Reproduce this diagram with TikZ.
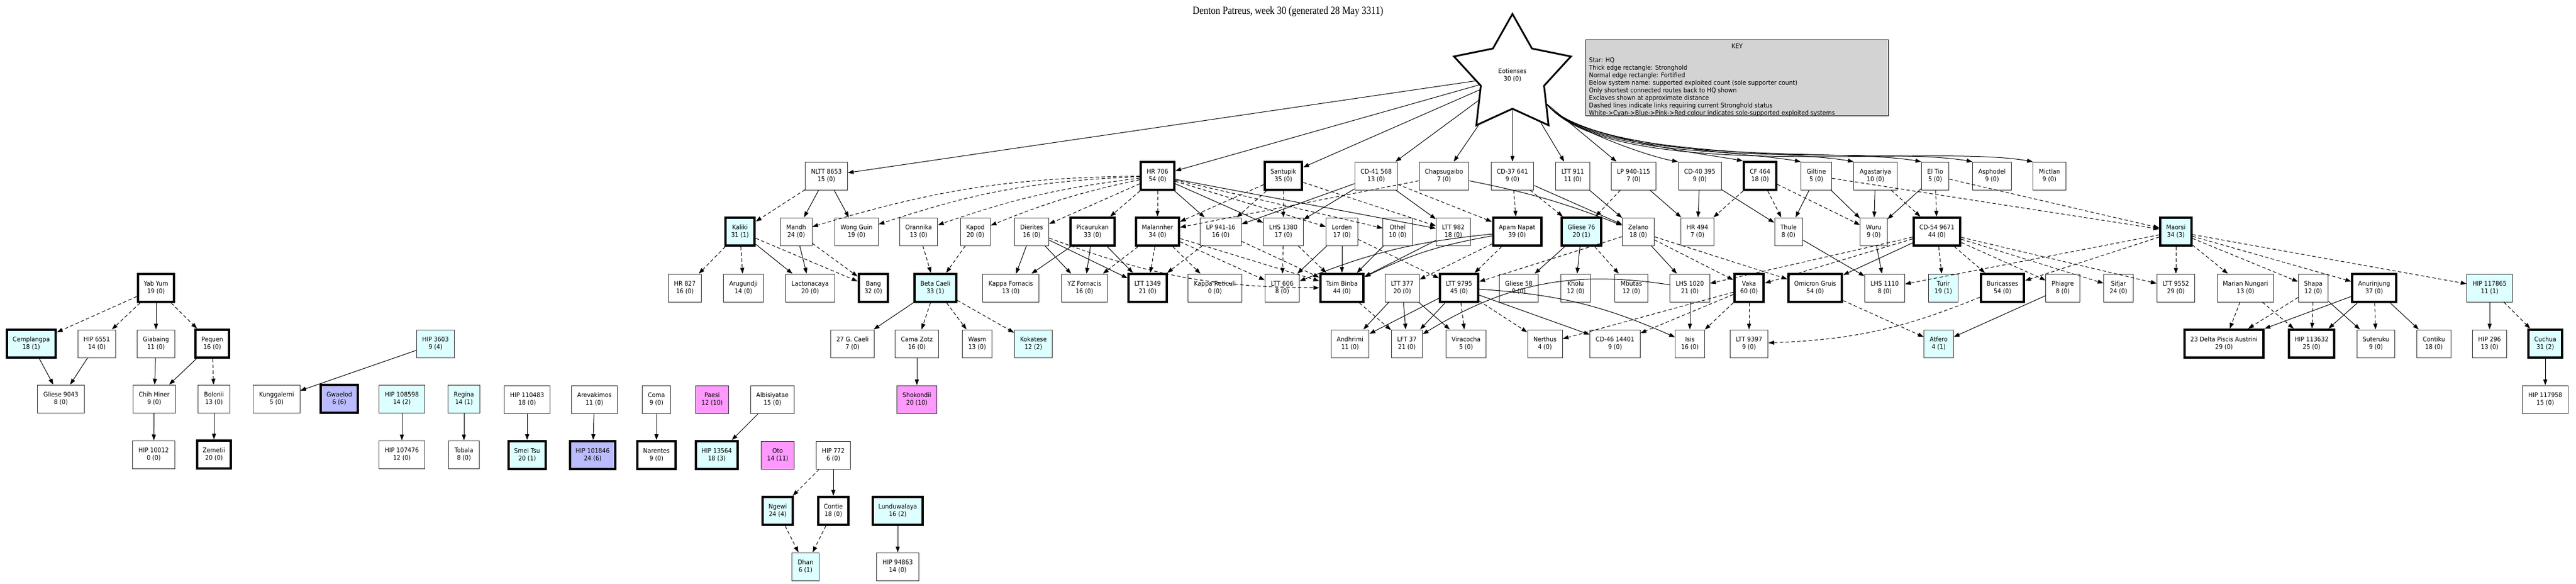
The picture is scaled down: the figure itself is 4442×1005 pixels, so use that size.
\documentclass[tikz,border=0pt]{standalone}
\usepackage{fontspec}
\setmainfont{DejaVu Sans}[FakeStretch=0.92]
\newfontfamily\titlefont{Liberation Serif}[FakeStretch=0.85]
\usepackage{xcolor}
\usetikzlibrary{arrows.meta, shapes.geometric, positioning}

\definecolor{edgegray}{HTML}{333333}
\definecolor{solecyan}{HTML}{DDFFFF}
\definecolor{soleblue}{HTML}{BBBBFF}
\definecolor{solepink}{HTML}{FF99FF}
\definecolor{keygray}{HTML}{D3D3D3}

\begin{document}
\begin{tikzpicture}[
  x=1pt, y=-1pt,
  font=\fontsize{11}{13}\selectfont,
  sys/.style={rectangle, draw=edgegray, line width=1pt, fill=white,
              minimum height=48pt, inner xsep=10pt, align=center},
  strong/.style={line width=4pt, draw=black},
  cyan/.style={fill=solecyan},
  blue/.style={fill=soleblue},
  pink/.style={fill=solepink},
  hq/.style={star, star points=5, star point ratio=1.85, draw=black,
             line width=3pt, fill=white, minimum size=212pt, inner sep=0pt,
             align=center},
  link/.style={-{Triangle[length=10pt,width=7pt]}, line width=1pt},
  dlink/.style={link, dash pattern=on 6pt off 4pt},
  swing/.style={out=-50, in=170, looseness=0.55},
]
  \useasboundingbox (0,0) rectangle (4442,1005);

  % title, HQ and key
  \node[font=\titlefont\fontsize{19}{21}\selectfont] (title) at (2221,20) {Denton Patreus, week 30 (generated 28 May 3311)};
  \node[hq] (hq) at (2608,130) {Eotienses\\30 (0)};
  \node[rectangle, draw=black, line width=1pt, fill=keygray, anchor=north west,
        minimum width=522pt, minimum height=131pt] (key) at (2734,68) {};
  \node[anchor=north] (keyhead) at ([yshift=-4pt]key.north) {KEY};
  \node[anchor=north west, align=left, inner sep=0pt] (keytext) at ([xshift=6pt,yshift=-31pt]key.north west)
    {Star: HQ\\Thick edge rectangle: Stronghold\\Normal edge rectangle: Fortified\\
     Below system name: supported exploited count (sole supporter count)\\
     Only shortest connected routes back to HQ shown\\Exclaves shown at approximate distance\\
     Dashed lines indicate links requiring current Stronghold status\\
     White->Cyan->Blue->Pink->Red colour indicates sole-supported exploited systems};

  % exclaves
  \node[sys, strong] (yabyum) at (269,496) {Yab Yum\\19 (0)};
  \node[sys, strong, cyan] (cemplangpa) at (54,592) {Cemplangpa\\18 (1)};
  \node[sys] (hipsixfive) at (167,592) {HIP 6551\\14 (0)};
  \node[sys] (giabaing) at (269,592) {Giabaing\\11 (0)};
  \node[sys, strong] (pequen) at (366,592) {Pequen\\16 (0)};
  \node[sys, cyan] (hipthreesix) at (751,592) {HIP 3603\\9 (4)};
  \node[sys] (gliesenine) at (105,687) {Gliese 9043\\8 (0)};
  \node[sys] (chihhiner) at (266,687) {Chih Hiner\\9 (0)};
  \node[sys] (bolonii) at (369,687) {Bolonii\\13 (0)};
  \node[sys] (kunggalerni) at (477,687) {Kunggalerni\\5 (0)};
  \node[sys, strong, blue] (gwaelod) at (585,687) {Gwaelod\\6 (6)};
  \node[sys, cyan] (hiponeoeight) at (693,687) {HIP 108598\\14 (2)};
  \node[sys, cyan] (regina) at (800,687) {Regina\\14 (1)};
  \node[sys] (hipten) at (265,783) {HIP 10012\\0 (0)};
  \node[sys, strong] (zemetii) at (369,783) {Zemetii\\20 (0)};
  \node[sys] (hiponeseven) at (693,783) {HIP 107476\\12 (0)};
  \node[sys] (tobala) at (800,783) {Tobala\\8 (0)};
  \node[sys] (hipeleven) at (909,688) {HIP 110483\\18 (0)};
  \node[sys] (arevakimos) at (1025,688) {Arevakimos\\11 (0)};
  \node[sys] (coma) at (1132,688) {Coma\\9 (0)};
  \node[sys, pink] (paesi) at (1228,688) {Paesi\\12 (10)};
  \node[sys] (albisiyatae) at (1332,688) {Albisiyatae\\15 (0)};
  \node[sys, strong, cyan] (smeitsu) at (909,784) {Smei Tsu\\20 (1)};
  \node[sys, strong, blue] (hiptenone) at (1022,784) {HIP 101846\\24 (6)};
  \node[sys, strong] (narentes) at (1132,784) {Narentes\\9 (0)};
  \node[sys, strong, cyan] (hipthirteen) at (1236,784) {HIP 13564\\18 (3)};
  \node[sys, pink] (oto) at (1341,784) {Oto\\14 (11)};
  \node[sys] (hipseven) at (1437,784) {HIP 772\\6 (0)};
  \node[sys, strong, cyan] (ngewi) at (1341,880) {Ngewi\\24 (4)};
  \node[sys, strong] (contie) at (1437,880) {Contie\\18 (0)};
  \node[sys, strong, cyan] (lunduwalaya) at (1548,880) {Lunduwalaya\\16 (2)};
  \node[sys, cyan] (dhan) at (1389,976) {Dhan\\6 (1)};
  \node[sys] (hipninefour) at (1548,976) {HIP 94863\\14 (0)};

  % first ring
  \node[sys] (nltt) at (1425,303) {NLTT 8653\\15 (0)};
  \node[sys, strong] (hrsevenoh) at (1996,303) {HR 706\\54 (0)};
  \node[sys, strong] (santupik) at (2213,303) {Santupik\\35 (0)};
  \node[sys] (cdfortyone) at (2373,303) {CD-41 568\\13 (0)};
  \node[sys] (chapsugaibo) at (2490,303) {Chapsugaibo\\7 (0)};
  \node[sys] (cdthirtyseven) at (2608,303) {CD-37 641\\9 (0)};
  \node[sys] (lttnineeleven) at (2712,303) {LTT 911\\11 (0)};
  \node[sys] (lpninefourty) at (2817,303) {LP 940-115\\7 (0)};
  \node[sys] (cdforty) at (2931,303) {CD-40 395\\9 (0)};
  \node[sys, strong] (cffour) at (3035,303) {CF 464\\18 (0)};
  \node[sys] (giltine) at (3132,303) {Giltine\\5 (0)};
  \node[sys] (agastariya) at (3234,303) {Agastariya\\10 (0)};
  \node[sys] (eltio) at (3337,303) {El Tio\\5 (0)};
  \node[sys] (asphodel) at (3435,303) {Asphodel\\9 (0)};
  \node[sys] (mictlan) at (3534,303) {Mictlan\\9 (0)};

  % second ring
  \node[sys, strong, cyan] (kaliki) at (1276,399) {Kaliki\\31 (1)};
  \node[sys] (mandh) at (1373,399) {Mandh\\24 (0)};
  \node[sys] (wongguin) at (1477,399) {Wong Guin\\19 (0)};
  \node[sys] (orannika) at (1584,399) {Orannika\\13 (0)};
  \node[sys] (kapod) at (1682,399) {Kapod\\20 (0)};
  \node[sys] (dierites) at (1779,399) {Dierites\\16 (0)};
  \node[sys, strong] (picaurukan) at (1884,399) {Picaurukan\\33 (0)};
  \node[sys, strong] (malannher) at (1996,399) {Malannher\\34 (0)};
  \node[sys] (lpnineone) at (2105,399) {LP 941-16\\16 (0)};
  \node[sys] (lhsthirteen) at (2213,399) {LHS 1380\\17 (0)};
  \node[sys] (lorden) at (2314,399) {Lorden\\17 (0)};
  \node[sys] (othel) at (2410,399) {Othel\\10 (0)};
  \node[sys] (lttnineeight) at (2506,399) {LTT 982\\18 (0)};
  \node[sys, strong] (apamnapat) at (2616,399) {Apam Napat\\39 (0)};
  \node[sys, strong, cyan] (gliesesix) at (2727,399) {Gliese 76\\20 (1)};
  \node[sys] (zelano) at (2825,399) {Zelano\\18 (0)};
  \node[sys] (hrfour) at (2927,399) {HR 494\\7 (0)};
  \node[sys] (thule) at (3084,399) {Thule\\8 (0)};
  \node[sys] (wuru) at (3231,399) {Wuru\\9 (0)};
  \node[sys, strong] (cdfiftyfour) at (3340,399) {CD-54 9671\\44 (0)};
  \node[sys, strong, cyan] (maorsi) at (3752,399) {Maorsi\\34 (3)};

  % third ring
  \node[sys] (hreight) at (1181,496) {HR 827\\16 (0)};
  \node[sys] (arugundji) at (1282,496) {Arugundji\\14 (0)};
  \node[sys] (lactonacaya) at (1397,496) {Lactonacaya\\20 (0)};
  \node[sys, strong] (bang) at (1506,496) {Bang\\32 (0)};
  \node[sys, strong, cyan] (betacaeli) at (1613,496) {Beta Caeli\\33 (1)};
  \node[sys] (kappafornacis) at (1743,496) {Kappa Fornacis\\13 (0)};
  \node[sys] (yzfornacis) at (1870,496) {YZ Fornacis\\16 (0)};
  \node[sys, strong] (ltttwelve) at (1979,496) {LTT 1349\\21 (0)};
  \node[sys] (kappareticuli) at (2095,496) {Kappa Reticuli\\0 (0)};
  \node[sys] (lttsix) at (2211,496) {LTT 606\\8 (0)};
  \node[sys, strong] (tsimbinba) at (2314,496) {Tsim Binba\\44 (0)};
  \node[sys] (lttthree) at (2418,496) {LTT 377\\20 (0)};
  \node[sys, strong] (lttnineseven) at (2516,496) {LTT 9795\\45 (0)};
  \node[sys] (gliesefive) at (2619,496) {Gliese 58\\9 (0)};
  \node[sys] (kholu) at (2717,496) {Kholu\\12 (0)};
  \node[sys] (mbutas) at (2813,496) {Mbutas\\12 (0)};
  \node[sys] (lhsten) at (2914,496) {LHS 1020\\21 (0)};
  \node[sys, strong] (vaka) at (3016,496) {Vaka\\60 (0)};
  \node[sys, strong] (omicrongruis) at (3130,496) {Omicron Gruis\\54 (0)};
  \node[sys] (lhseleven) at (3250,496) {LHS 1110\\8 (0)};
  \node[sys, cyan] (turir) at (3351,496) {Turir\\19 (1)};
  \node[sys, strong] (buricasses) at (3453,496) {Buricasses\\54 (0)};
  \node[sys] (phiagre) at (3557,496) {Phiagre\\8 (0)};
  \node[sys] (sifjar) at (3653,496) {Sifjar\\24 (0)};
  \node[sys] (lttninefive) at (3752,496) {LTT 9552\\29 (0)};
  \node[sys] (mariannungari) at (3872,496) {Marian Nungari\\13 (0)};
  \node[sys] (shapa) at (3989,496) {Shapa\\12 (0)};
  \node[sys, strong] (anurinjung) at (4094,496) {Anurinjung\\37 (0)};
  \node[sys, cyan] (hipseventeen) at (4293,496) {HIP 117865\\11 (1)};

  % fourth ring
  \node[sys] (twentyseven) at (1470,592) {27 G. Caeli\\7 (0)};
  \node[sys] (camazotz) at (1581,592) {Cama Zotz\\16 (0)};
  \node[sys] (wasm) at (1685,592) {Wasm\\13 (0)};
  \node[sys, cyan] (kokatese) at (1782,592) {Kokatese\\12 (2)};
  \node[sys] (andhrimi) at (2328,592) {Andhrimi\\11 (0)};
  \node[sys] (lftthirtyseven) at (2426,592) {LFT 37\\21 (0)};
  \node[sys] (viracocha) at (2528,592) {Viracocha\\5 (0)};
  \node[sys] (nerthus) at (2664,592) {Nerthus\\4 (0)};
  \node[sys] (cdfortysix) at (2785,592) {CD-46 14401\\9 (0)};
  \node[sys] (isis) at (2914,592) {Isis\\16 (0)};
  \node[sys] (lttninethree) at (3016,592) {LTT 9397\\9 (0)};
  \node[sys, cyan] (atfero) at (3343,592) {Atfero\\4 (1)};
  \node[sys, strong] (deltapiscis) at (3835,592) {23 Delta Piscis Austrini\\29 (0)};
  \node[sys, strong] (hipthirteensix) at (3986,592) {HIP 113632\\25 (0)};
  \node[sys] (suteruku) at (4097,592) {Suteruku\\9 (0)};
  \node[sys] (contiku) at (4197,592) {Contiku\\18 (0)};
  \node[sys] (hiptwo) at (4293,592) {HIP 296\\13 (0)};
  \node[sys, strong, cyan] (cuchua) at (4389,592) {Cuchua\\31 (2)};
  \node[sys] (hipseventeennine) at (4389,688) {HIP 117958\\15 (0)};
  \node[sys, pink] (shokondii) at (1581,688) {Shokondii\\20 (10)};

  % exclave links
  \draw[dlink] (yabyum) -- (cemplangpa);
  \draw[dlink] (yabyum) -- (hipsixfive);
  \draw[link] (yabyum) -- (giabaing);
  \draw[dlink] (yabyum) -- (pequen);
  \draw[link] (cemplangpa) -- (gliesenine);
  \draw[link] (hipsixfive) -- (gliesenine);
  \draw[link] (giabaing) -- (chihhiner);
  \draw[link] (pequen) -- (chihhiner);
  \draw[dlink] (pequen) -- (bolonii);
  \draw[link] (chihhiner) -- (hipten);
  \draw[link] (bolonii) -- (zemetii);
  \draw[link] (hipthreesix) -- (kunggalerni);
  \draw[link] (hiponeoeight) -- (hiponeseven);
  \draw[link] (regina) -- (tobala);
  \draw[link] (hipeleven) -- (smeitsu);
  \draw[link] (arevakimos) -- (hiptenone);
  \draw[link] (coma) -- (narentes);
  \draw[link] (albisiyatae) -- (hipthirteen);
  \draw[dlink] (hipseven) -- (ngewi);
  \draw[link] (hipseven) -- (contie);
  \draw[dlink] (ngewi) -- (dhan);
  \draw[dlink] (contie) -- (dhan);
  \draw[link] (lunduwalaya) -- (hipninefour);

  % links from HQ
  \draw[link] (hq) -- (nltt);
  \draw[link] (hq) -- (hrsevenoh);
  \draw[link] (hq) -- (santupik);
  \draw[link] (hq) -- (cdfortyone);
  \draw[link] (hq) -- (chapsugaibo);
  \draw[link] (hq) -- (cdthirtyseven);
  \draw[link] (hq) -- (lttnineeleven);
  \draw[link] (hq) -- (lpninefourty);
  \draw[link] (hq.-40) to[swing] (cdforty.north west);
  \draw[link] (hq.-40) to[swing] (cffour.north west);
  \draw[link] (hq.-40) to[swing] (giltine.north west);
  \draw[link] (hq.-40) to[swing] (agastariya.north west);
  \draw[link] (hq.-40) to[swing] (eltio.north west);
  \draw[link] (hq.-40) to[swing] (asphodel.north west);
  \draw[link] (hq.-40) to[swing] (mictlan.north west);

  % first to second ring
  \draw[dlink] (nltt) -- (kaliki);
  \draw[link] (nltt) -- (mandh);
  \draw[link] (nltt) -- (wongguin);
  \draw[dlink] (hrsevenoh) to[bend right=8] (mandh);
  \draw[dlink] (hrsevenoh) to[bend right=8] (wongguin);
  \draw[dlink] (hrsevenoh) to[bend right=6] (orannika);
  \draw[dlink] (hrsevenoh) to[bend right=5] (kapod);
  \draw[dlink] (hrsevenoh) -- (dierites);
  \draw[dlink] (hrsevenoh) -- (picaurukan);
  \draw[dlink] (hrsevenoh) -- (malannher);
  \draw[link] (hrsevenoh) -- (lpnineone);
  \draw[link] (hrsevenoh) -- (lhsthirteen);
  \draw[link] (hrsevenoh) -- (lttnineeight);
  \draw[dlink] (hrsevenoh) -- (lorden);
  \draw[dlink] (hrsevenoh) -- (othel);
  \draw[dlink] (santupik) -- (lhsthirteen);
  \draw[dlink] (santupik) -- (malannher);
  \draw[dlink] (santupik) -- (lpnineone);
  \draw[dlink] (santupik) -- (lttnineeight);
  \draw[link] (cdfortyone) -- (lpnineone);
  \draw[link] (cdfortyone) -- (lhsthirteen);
  \draw[link] (cdfortyone) -- (lttnineeight);
  \draw[dlink] (cdfortyone) -- (apamnapat);
  \draw[dlink] (chapsugaibo) -- (malannher);
  \draw[link] (chapsugaibo) to[bend left=5] (zelano);
  \draw[dlink] (cdthirtyseven) -- (apamnapat);
  \draw[dlink] (cdthirtyseven) -- (gliesesix);
  \draw[link] (cdthirtyseven) -- (zelano);
  \draw[link] (lttnineeleven) -- (zelano);
  \draw[dlink] (lpninefourty) -- (gliesesix);
  \draw[link] (lpninefourty) -- (hrfour);
  \draw[link] (cdforty) -- (hrfour);
  \draw[link] (cdforty) -- (thule);
  \draw[dlink] (cffour) -- (hrfour);
  \draw[dlink] (cffour) -- (thule);
  \draw[dlink] (cffour) -- (wuru);
  \draw[link] (giltine) -- (thule);
  \draw[link] (giltine) -- (wuru);
  \draw[dlink] (giltine) -- (maorsi);
  \draw[link] (agastariya) -- (wuru);
  \draw[dlink] (agastariya) -- (cdfiftyfour);
  \draw[link] (eltio) -- (wuru);
  \draw[dlink] (eltio) -- (cdfiftyfour);
  \draw[dlink] (eltio) -- (maorsi);

  % second to third ring
  \draw[dlink] (kaliki) -- (hreight);
  \draw[dlink] (kaliki) -- (arugundji);
  \draw[link] (kaliki) -- (lactonacaya);
  \draw[dlink] (kaliki) -- (bang);
  \draw[link] (mandh) -- (lactonacaya);
  \draw[dlink] (mandh) -- (bang);
  \draw[dlink] (orannika) -- (betacaeli);
  \draw[dlink] (kapod) -- (betacaeli);
  \draw[link] (dierites) -- (kappafornacis);
  \draw[link] (dierites) -- (yzfornacis);
  \draw[link] (dierites) -- (ltttwelve);
  \draw[dlink] (dierites) to[bend right=10] (tsimbinba);
  \draw[link] (picaurukan) -- (kappafornacis);
  \draw[link] (picaurukan) -- (yzfornacis);
  \draw[link] (picaurukan) -- (ltttwelve);
  \draw[dlink] (malannher) -- (yzfornacis);
  \draw[dlink] (malannher) -- (ltttwelve);
  \draw[dlink] (malannher) -- (kappareticuli);
  \draw[dlink] (malannher) -- (tsimbinba);
  \draw[dlink] (malannher) -- (lttsix);
  \draw[dlink] (lpnineone) -- (ltttwelve);
  \draw[dlink] (lpnineone) -- (tsimbinba);
  \draw[dlink] (lhsthirteen) -- (lttsix);
  \draw[dlink] (lhsthirteen) -- (tsimbinba);
  \draw[link] (lorden) -- (lttsix);
  \draw[link] (lorden) -- (tsimbinba);
  \draw[dlink] (lorden) -- (lttnineseven);
  \draw[link] (othel) -- (tsimbinba);
  \draw[link] (lttnineeight) -- (tsimbinba);
  \draw[link] (apamnapat) to[bend right=8] (tsimbinba);
  \draw[link] (apamnapat) to[bend right=8] (lttsix);
  \draw[dlink] (apamnapat) -- (lttthree);
  \draw[dlink] (apamnapat) -- (lttnineseven);
  \draw[link] (gliesesix) -- (gliesefive);
  \draw[link] (gliesesix) -- (kholu);
  \draw[dlink] (gliesesix) -- (mbutas);
  \draw[dlink] (zelano) -- (lttnineseven);
  \draw[link] (zelano) -- (lhsten);
  \draw[dlink] (zelano) -- (vaka);
  \draw[dlink] (zelano) -- (omicrongruis);
  \draw[link] (thule) -- (lhseleven);
  \draw[link] (wuru) -- (lhseleven);
  \draw[link] (cdfiftyfour) -- (omicrongruis);
  \draw[dlink] (cdfiftyfour) -- (vaka);
  \draw[dlink] (cdfiftyfour) -- (lhsten);
  \draw[dlink] (cdfiftyfour) -- (turir);
  \draw[dlink] (cdfiftyfour) -- (buricasses);
  \draw[dlink] (cdfiftyfour) -- (phiagre);
  \draw[dlink] (cdfiftyfour) -- (sifjar);
  \draw[dlink] (cdfiftyfour) -- (lttninefive);
  \draw[dlink] (maorsi) -- (lttninefive);
  \draw[dlink] (maorsi) -- (mariannungari);
  \draw[dlink] (maorsi) -- (shapa);
  \draw[dlink] (maorsi) -- (anurinjung);
  \draw[dlink] (maorsi) -- (hipseventeen);
  \draw[dlink] (maorsi) -- (lhseleven);
  \draw[dlink] (maorsi) -- (buricasses);

  % third to fourth ring
  \draw[link] (betacaeli) -- (twentyseven);
  \draw[dlink] (betacaeli) -- (camazotz);
  \draw[dlink] (betacaeli) -- (wasm);
  \draw[dlink] (betacaeli) -- (kokatese);
  \draw[link] (camazotz) -- (shokondii);
  \draw[dlink] (tsimbinba) -- (lftthirtyseven);
  \draw[link] (lttthree) -- (andhrimi);
  \draw[link] (lttthree) -- (lftthirtyseven);
  \draw[link] (lttthree) -- (viracocha);
  \draw[link] (lttnineseven) -- (andhrimi);
  \draw[link] (lttnineseven) -- (lftthirtyseven);
  \draw[dlink] (lttnineseven) -- (viracocha);
  \draw[dlink] (lttnineseven) -- (nerthus);
  \draw[link] (lttnineseven) -- (cdfortysix);
  \draw[link] (lttnineseven) to[bend left=10] (isis);
  \draw[link] (lhsten) to[bend right=20] (lftthirtyseven);
  \draw[link] (lhsten) -- (isis);
  \draw[dlink] (vaka) -- (cdfortysix);
  \draw[dlink] (vaka) -- (isis);
  \draw[dlink] (vaka) -- (lttninethree);
  \draw[dlink] (vaka) -- (nerthus);
  \draw[dlink] (omicrongruis) -- (atfero);
  \draw[dlink] (buricasses) to[bend left=10] (lttninethree);
  \draw[link] (phiagre) -- (atfero);
  \draw[dlink] (mariannungari) -- (deltapiscis);
  \draw[dlink] (mariannungari) -- (hipthirteensix);
  \draw[dlink] (shapa) -- (deltapiscis);
  \draw[dlink] (shapa) -- (hipthirteensix);
  \draw[link] (shapa) -- (suteruku);
  \draw[link] (anurinjung) -- (deltapiscis);
  \draw[link] (anurinjung) -- (hipthirteensix);
  \draw[dlink] (anurinjung) -- (suteruku);
  \draw[link] (anurinjung) -- (contiku);
  \draw[link] (hipseventeen) -- (hiptwo);
  \draw[dlink] (hipseventeen) -- (cuchua);
  \draw[link] (cuchua) -- (hipseventeennine);
\end{tikzpicture}
\end{document}
